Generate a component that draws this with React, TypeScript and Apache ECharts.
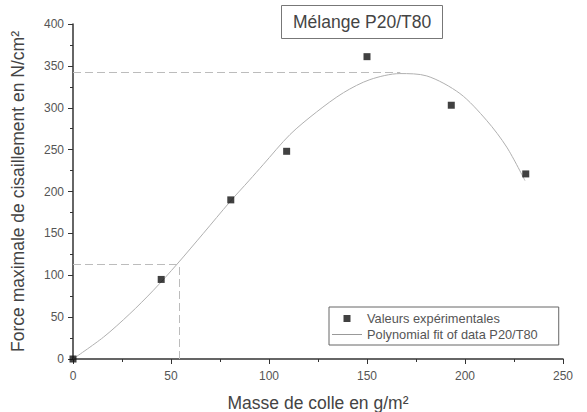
import React, { useEffect, useRef } from "react";
import * as echarts from "echarts";

const expX = [0, 45, 80.5, 109, 150, 193, 231];
const expY = [0, 95, 190, 248, 361, 303, 221];

const fitX = [0, 15.5, 29, 41, 53, 66.5, 80, 90, 97, 110.7, 124.3, 138, 151.5, 166.8, 180.5, 197.4, 211, 221.3, 230.6];
const fitY = [0, 26, 54, 82, 113, 150, 187.5, 213.5, 232, 268, 295, 318, 333.6, 340.8, 338, 317, 285, 253, 213];

const peakX = 167;
const peakY = 342;
const refX = 54;
const refY = 113;

const seriesNames = ["Valeurs expérimentales", "Polynomial fit of data P20/T80"];
const titleText = "Mélange P20/T80";
const xName = "Masse de colle en g/m²";
const yName = "Force maximale de cisaillement en N/cm²";

const FONT = "Liberation Sans, Arial, sans-serif";

export default function App() {
  const ref = useRef<HTMLDivElement>(null);
  useEffect(() => {
    if (!ref.current) return;
    document.body.style.margin = "0";
    const chart = echarts.init(ref.current, undefined, { renderer: "svg" });
    const dashStyle = { color: "#bcbcbc", width: 1, type: [8, 4] as any };
    chart.setOption({
      animation: false,
      backgroundColor: "#fff",
      textStyle: { fontFamily: FONT },
      title: {
        text: titleText,
        left: 281,
        top: 5,
        padding: [8, 12, 8, 12],
        borderColor: "#777",
        borderWidth: 1,
        textStyle: { fontFamily: FONT, fontSize: 17.5, fontWeight: "normal", color: "#444" },
      },
      legend: {
        orient: "vertical",
        left: 329,
        top: 307,
        padding: [5, 21, 4, 3],
        itemGap: 3,
        itemWidth: 30,
        itemHeight: 7,
        borderColor: "#666",
        borderWidth: 1,
        textStyle: { fontFamily: FONT, fontSize: 12.8, color: "#555" },
        data: [
          { name: seriesNames[0], icon: "path://M0,0 h7 v7 h-7 z" },
          { name: seriesNames[1], icon: "path://M0,0 h30 v1 h-30 z" },
        ],
      },
      grid: { left: 73, right: 24, top: 24, bottom: 53, outerBoundsMode: "none", containLabel: false },
      xAxis: {
        type: "value",
        min: 0,
        max: 250,
        interval: 50,
        name: xName,
        nameLocation: "middle",
        nameGap: 35,
        nameTextStyle: { fontFamily: FONT, fontSize: 17.5, color: "#444" },
        axisLine: { lineStyle: { color: "#333", width: 1.5 } },
        axisTick: { show: true, length: 5, lineStyle: { color: "#333" } },
        minorTick: { show: true, splitNumber: 2, length: 3, lineStyle: { color: "#333" } },
        axisLabel: { fontFamily: FONT, fontSize: 12, color: "#555", margin: 11 },
        splitLine: { show: false },
      },
      yAxis: {
        type: "value",
        min: 0,
        max: 400,
        interval: 50,
        name: yName,
        nameLocation: "middle",
        nameGap: 46,
        nameTextStyle: { fontFamily: FONT, fontSize: 17.5, color: "#444" },
        axisLine: { show: true, lineStyle: { color: "#333", width: 1.5 } },
        axisTick: { show: true, length: 5, lineStyle: { color: "#333" } },
        minorTick: { show: true, splitNumber: 2, length: 3, lineStyle: { color: "#333" } },
        axisLabel: { fontFamily: FONT, fontSize: 12, color: "#555", margin: 9 },
        splitLine: { show: false },
      },
      series: [
        {
          name: seriesNames[1],
          type: "line",
          smooth: 0.3,
          showSymbol: false,
          symbol: "none",
          data: fitX.map((x, i) => [x, fitY[i]]),
          lineStyle: { color: "#b0b0b0", width: 1 },
          itemStyle: { color: "#999" },
          z: 2,
          markLine: {
            silent: true,
            symbol: "none",
            label: { show: false },
            lineStyle: dashStyle,
            data: [
              [{ coord: [0, peakY] }, { coord: [peakX, peakY] }],
              [{ coord: [0, refY] }, { coord: [refX, refY] }],
              [{ coord: [refX, 0] }, { coord: [refX, refY] }],
            ],
          },
        },
        {
          name: seriesNames[0],
          type: "scatter",
          symbol: "rect",
          symbolSize: 7,
          data: expX.map((x, i) => [x, expY[i]]),
          itemStyle: { color: "#111" },
          z: 5,
        },
      ],
    });
    return () => chart.dispose();
  }, []);
  return <div ref={ref} style={{ width: 587, height: 412 }} />;
}
